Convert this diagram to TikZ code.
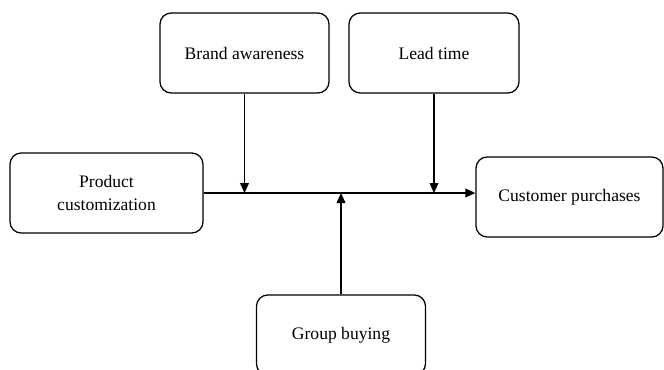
\documentclass[tikz,border=0pt]{standalone}
\usepackage{fontspec}
\setmainfont{Liberation Serif}
\usetikzlibrary{arrows.meta, positioning}

\begin{document}
\begin{tikzpicture}[
    x=0.025cm, y=-0.025cm,
    factor/.style={draw, line width=0.9pt, rounded corners=8pt, minimum height=2cm, align=center, font=\fontsize{12.5}{16}\selectfont},
    arrow/.style={-{Triangle[length=2.5mm, width=2.2mm]}, line width=0.9pt}
]
    \useasboundingbox (0,0) rectangle (664,369);
    % Factors
    \node[factor, minimum width=4.225cm] (brand) at (244.5,53) {Brand awareness};
    \node[factor, minimum width=4.25cm] (lead) at (434,53) {Lead time};
    \node[factor, minimum width=4.825cm] (product) at (106.5,193) {Product\\customization};
    \node[factor, minimum width=4.675cm] (customer) at (569.5,197) {Customer purchases};
    \node[factor, minimum width=4.225cm] (group) at (341,335) {Group buying};

    % Arrows
    \draw[arrow] (product.east) -- (product.east -| customer.west);
    \draw[arrow] (brand.south) -- (brand.south |- product.east);
    \draw[arrow] (lead.south) -- (lead.south |- product.east);
    \draw[arrow] (group.north) -- (group.north |- product.east);
\end{tikzpicture}
\end{document}
